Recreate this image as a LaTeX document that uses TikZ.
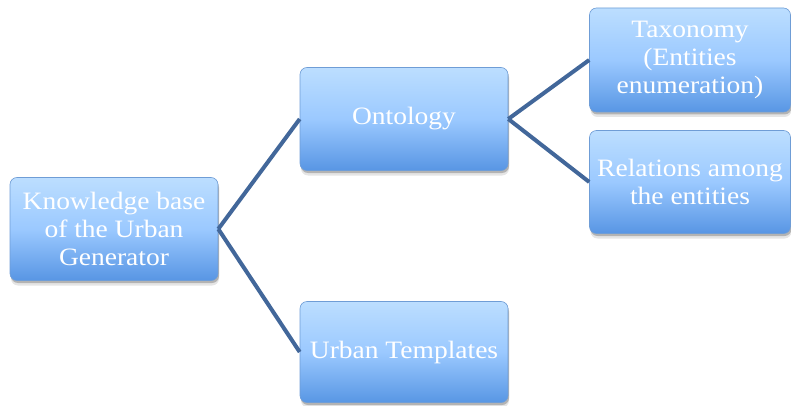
\documentclass[tikz,border=0pt]{standalone}
\usepackage{fontspec}
\setmainfont[FakeStretch=1.1]{Liberation Serif}
\usetikzlibrary{shadows}
\definecolor{boxtop}{HTML}{BCDEFF}
\definecolor{boxmid}{HTML}{9BC9FF}
\definecolor{boxbot}{HTML}{5896E4}
\definecolor{boxedge}{HTML}{6F9DD6}
\definecolor{linkcol}{HTML}{42679A}
\tikzset{
  ubox/.style={rectangle, rounded corners=7pt, draw=boxedge, line width=0.6pt,
    top color=boxtop, bottom color=boxbot, middle color=boxmid,
    text=white, align=center, inner sep=0pt,
    font=\fontsize{25}{28}\selectfont,
    general shadow={fill=black, opacity=0.10, shadow xshift=1pt, shadow yshift=-5pt, shadow scale=1.0},
    drop shadow={fill=black, opacity=0.22, shadow xshift=1pt, shadow yshift=-2.5pt}},
  link/.style={draw=linkcol, line width=4pt}
}
\begin{document}
\begin{tikzpicture}[x=1pt,y=-1pt]
\useasboundingbox (0,0) rectangle (791,406);
\node[ubox, minimum width=208pt, minimum height=103pt] (kb) at (114,229) {Knowledge base\\of the Urban\\Generator};
\node[ubox, minimum width=208pt, minimum height=103pt] (ont) at (404,119) {Ontology};
\node[ubox, minimum width=201pt, minimum height=104pt] (tax) at (690,60) {Taxonomy\\(Entities\\enumeration)};
\node[ubox, minimum width=201pt, minimum height=103pt] (rel) at (690,182) {Relations among\\the entities};
\node[ubox, minimum width=208pt, minimum height=101pt] (ut) at (404,352) {Urban Templates};
\draw[link] (kb.east) -- (ont.west);
\draw[link] (kb.east) -- (ut.west);
\draw[link] (ont.east) -- (tax.west);
\draw[link] (ont.east) -- (rel.west);
\end{tikzpicture}
\end{document}
